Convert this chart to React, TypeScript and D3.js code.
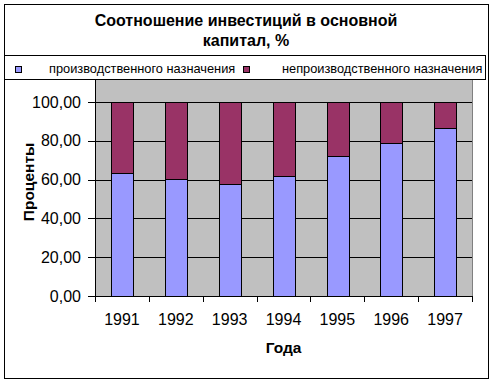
import React from "react";
import * as d3 from "d3";

// years on the x axis
const years = ["1991", "1992", "1993", "1994", "1995", "1996", "1997"];
// share of production investment, %
const productive = [63.1, 60.1, 57.5, 61.6, 71.9, 78.6, 86.3];
// share of non-production investment, %
const nonProductive = [36.9, 39.9, 42.5, 38.4, 28.1, 21.4, 13.7];
const yTicks = [0, 20, 40, 60, 80, 100];
const seriesNames = ["производственного назначения", "непроизводственного назначения"];
const colors = ["#9999FF", "#993366"];

const W = 494;
const H = 384;
const font = "Arial, 'Liberation Sans', sans-serif";

// y axis runs to 120 but its top is hidden under the legend box
const plot = { left: 95, right: 472, top: 63, bottom: 296 };

export default function App() {
  const x = d3.scaleBand<string>().domain(years).range([plot.left, plot.right]).paddingInner(0.6).paddingOuter(0.3);
  const xb = d3.scaleBand<string>().domain(years).range([plot.left, plot.right]);
  const y = d3.scaleLinear().domain([0, 120]).range([plot.bottom, plot.top]);

  const rows = years.map((yr, i) => ({ year: yr, p: productive[i], n: nonProductive[i] }));
  const series = d3.stack<any>().keys(["p", "n"])(rows);

  const fmt = (v: number) => v.toFixed(2).replace(".", ",");
  const py = (v: number) => Math.round(y(v)) + 0.5;

  return (
    <svg width={W} height={H} style={{ position: "absolute", left: 0, top: 0, background: "#fff" }} fontFamily={font}>
      <rect x={0} y={0} width={W} height={H} fill="#fff" />
      <rect x={4.5} y={4.5} width={484} height={374} fill="#fff" stroke="#000" />

      {/* plot area */}
      <rect x={plot.left} y={plot.top} width={plot.right - plot.left} height={plot.bottom - plot.top} fill="#C0C0C0" />
      <line x1={plot.right + 0.5} x2={plot.right + 0.5} y1={plot.top} y2={plot.bottom} stroke="#808080" />
      {[20, 40, 60, 80, 100, 120].map((t) => (
        <line key={t} x1={plot.left} x2={plot.right} y1={py(t)} y2={py(t)} stroke="#000" />
      ))}

      {/* bars */}
      {series.map((s, si) => (
        <g key={si} fill={colors[si]} stroke="#000">
          {s.map((d, i) => (
            <rect
              key={i}
              x={Math.round(x(years[i])!) + 0.5}
              y={py(d[1])}
              width={Math.round(x.bandwidth())}
              height={Math.round(y(d[0])) - Math.round(y(d[1]))}
            />
          ))}
        </g>
      ))}

      {/* y axis */}
      <line x1={plot.left + 0.5} x2={plot.left + 0.5} y1={plot.top} y2={plot.bottom} stroke="#000" />
      {yTicks.map((t) => (
        <g key={t}>
          <line x1={plot.left - 7} x2={plot.left} y1={py(t)} y2={py(t)} stroke="#000" />
          <text x={81} y={y(t)} dy="0.36em" textAnchor="end" fontSize={16} fill="#000">
            {fmt(t)}
          </text>
        </g>
      ))}

      {/* x axis */}
      <line x1={plot.left} x2={plot.right + 1} y1={plot.bottom + 0.5} y2={plot.bottom + 0.5} stroke="#000" />
      {[...years.map((yr) => xb(yr)!), plot.right].map((v, i) => (
        <line key={i} x1={Math.round(v) + 0.5} x2={Math.round(v) + 0.5} y1={plot.bottom} y2={plot.bottom + 6} stroke="#000" />
      ))}
      {years.map((yr) => (
        <text key={yr} x={xb(yr)! + xb.bandwidth() / 2} y={325} textAnchor="middle" fontSize={16} fill="#000">
          {yr}
        </text>
      ))}

      {/* axis titles */}
      <text x={(plot.left + plot.right) / 2} y={353} textAnchor="middle" fontSize={15.5} fontWeight="bold">
        Года
      </text>
      <text transform={`translate(33.5,182) rotate(-90)`} textAnchor="middle" fontSize={15.5} fontWeight="bold">
        Проценты
      </text>

      {/* title */}
      <text x={246} y={26} textAnchor="middle" fontSize={16} fontWeight="bold">
        Соотношение инвестиций в основной
      </text>
      <text x={246} y={46} textAnchor="middle" fontSize={16} fontWeight="bold">
        капитал, %
      </text>

      {/* legend */}
      <rect x={4.5} y={55.5} width={481} height={24} fill="#fff" stroke="#000" />
      <rect x={15.5} y={66.5} width={6} height={6} fill={colors[0]} stroke="#000" />
      <text x={49} y={73} fontSize={12.8}>{seriesNames[0]}</text>
      <rect x={243.5} y={66.5} width={6} height={6} fill={colors[1]} stroke="#000" />
      <text x={282} y={73} fontSize={12.8}>{seriesNames[1]}</text>
    </svg>
  );
}
